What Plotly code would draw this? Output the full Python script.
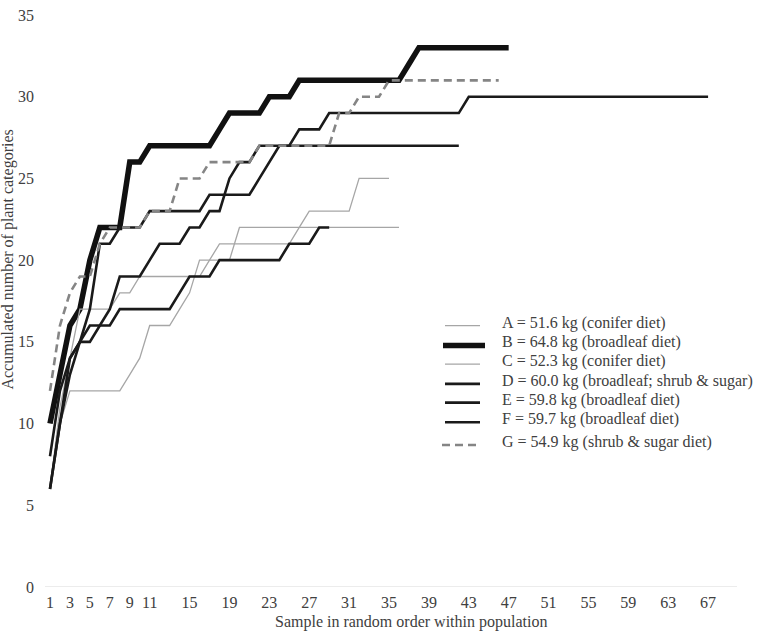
import plotly.graph_objects as go

# x positions (sample index) are 1..n for each series
A = [6, 10, 12, 12, 12, 12, 12, 12, 13, 14, 16, 16, 16, 17, 18, 20, 20, 20, 20, 22,
     22, 22, 22, 22, 22, 22, 22, 22, 22, 22, 22, 22, 22, 22, 22, 22]
B = [10, 13, 16, 17, 20, 22, 22, 22, 26, 26, 27, 27, 27, 27, 27, 27, 27, 28, 29, 29,
     29, 29, 30, 30, 30, 31, 31, 31, 31, 31, 31, 31, 31, 31, 31, 31, 32, 33, 33, 33,
     33, 33, 33, 33, 33, 33, 33]
C = [6, 11, 14, 17, 17, 17, 17, 18, 18, 19, 19, 19, 19, 19, 19, 19, 20, 21, 21, 21,
     21, 21, 21, 21, 21, 22, 23, 23, 23, 23, 23, 25, 25, 25, 25]
D = [8, 12, 14, 15, 17, 21, 21, 22, 22, 22, 23, 23, 23, 23, 23, 23, 24, 24, 24, 24,
     24, 25, 26, 27, 27, 28, 28, 28, 29, 29, 29, 29, 29, 29, 29, 29, 29, 29, 29, 29,
     29, 29, 30, 30, 30, 30, 30, 30, 30, 30, 30, 30, 30, 30, 30, 30, 30, 30, 30, 30,
     30, 30, 30, 30, 30, 30, 30]
E = [6, 10, 14, 15, 16, 16, 17, 19, 19, 19, 20, 21, 21, 21, 22, 22, 23, 23, 25, 26,
     26, 27, 27, 27, 27, 27, 27, 27, 27, 27, 27, 27, 27, 27, 27, 27, 27, 27, 27, 27,
     27, 27]
F = [6, 10, 13, 15, 15, 16, 16, 17, 17, 17, 17, 17, 17, 18, 19, 19, 19, 20, 20, 20,
     20, 20, 20, 20, 21, 21, 21, 22, 22]
G = [12, 16, 18, 19, 19, 21, 22, 22, 22, 22, 23, 23, 23, 25, 25, 25, 26, 26, 26, 26,
     26, 27, 27, 27, 27, 27, 27, 27, 27, 29, 29, 30, 30, 30, 31, 31, 31, 31, 31, 31,
     31, 31, 31, 31, 31, 31]

names = ["A = 51.6 kg (conifer diet)",
         "B = 64.8 kg (broadleaf diet)",
         "C = 52.3 kg (conifer diet)",
         "D = 60.0 kg (broadleaf; shrub & sugar)",
         "E = 59.8 kg (broadleaf diet)",
         "F = 59.7 kg (broadleaf diet)",
         "G = 54.9 kg (shrub & sugar diet)"]
series = [A, B, C, D, E, F, G]
styles = [dict(color="#a6a6a6", width=1.3),
          dict(color="#111111", width=5.5),
          dict(color="#a6a6a6", width=1.3),
          dict(color="#1a1a1a", width=2.6),
          dict(color="#1a1a1a", width=2.6),
          dict(color="#1a1a1a", width=2.6),
          dict(color="#858585", width=2.6, dash="8px,5px")]

x_ticks = [1, 3, 5, 7, 9, 11, 15, 19, 23, 27, 31, 35, 39, 43, 47, 51, 55, 59, 63, 67]
y_ticks = [0, 5, 10, 15, 20, 25, 30, 35]

W, H = 757, 635
ML, MR, MT, MB = 45, 20, 7, 48
PW, PH = W - ML - MR, H - MT - MB


def px_x(p):
    return (p - ML) / PW


def px_y(p):
    return 1 - (p - MT) / PH


fig = go.Figure()
for name, ys, st in zip(names, series, styles):
    fig.add_trace(go.Scatter(x=list(range(1, len(ys) + 1)), y=ys, mode="lines",
                             name=name, line=st, hoverinfo="skip", showlegend=False))

font_fam = "Liberation Serif"
txt_col = "#404040"
fig.update_layout(
    width=W, height=H,
    margin=dict(l=ML, r=MR, t=MT, b=MB),
    paper_bgcolor="white", plot_bgcolor="white",
    font=dict(family=font_fam, size=16, color=txt_col),
    showlegend=False,
    xaxis=dict(range=[0.5, 69.9], tickmode="array", tickvals=x_ticks,
               ticktext=[str(v) for v in x_ticks], showgrid=False, zeroline=False,
               showline=False, ticks="", tickfont=dict(family=font_fam, size=16),
               ticklabelstandoff=4),
    yaxis=dict(range=[0, 35], tickmode="array", tickvals=y_ticks,
               showgrid=False, zeroline=False, showline=False, ticks="",
               tickfont=dict(family=font_fam, size=16), ticklabelstandoff=10,
               ticklabeloverflow="allow"),
)
# light baseline at y=0
fig.add_shape(type="line", xref="paper", yref="y", x0=0, x1=1, y0=0, y1=0,
              line=dict(color="#d9d9d9", width=1), layer="below")

# legend (symbol samples + labels)
leg_sym_y = [322, 342, 361, 381, 400, 420, 443]
leg_sym_x0 = [445, 443, 445, 445, 445, 445, 442]
leg_sym_x1 = [480, 485, 480, 480, 480, 480, 480]
leg_txt_x = 500
for name, st, sy, sx0, sx1 in zip(names, styles, leg_sym_y, leg_sym_x0, leg_sym_x1):
    fig.add_shape(type="line", xref="paper", yref="paper",
                  x0=px_x(sx0), x1=px_x(sx1), y0=px_y(sy), y1=px_y(sy),
                  line=st)
    fig.add_annotation(text=name, xref="paper", yref="paper",
                       x=px_x(leg_txt_x), y=px_y(sy - 3), xanchor="left", yanchor="middle",
                       showarrow=False, font=dict(family=font_fam, size=16, color=txt_col))

fig.add_annotation(text="Sample in random order within population", xref="paper",
                   yref="paper", x=px_x(411), y=px_y(622), yanchor="middle", showarrow=False,
                   font=dict(family=font_fam, size=16, color=txt_col))
fig.add_annotation(text="Accumulated number of plant categories", xref="paper",
                   yref="paper", x=px_x(8), y=px_y(255), textangle=-90, showarrow=False,
                   xanchor="center", yanchor="middle",
                   font=dict(family=font_fam, size=16, color=txt_col))
fig.write_html("out.html", config={"displayModeBar": False},
               post_script="document.body.style.margin='0';")
